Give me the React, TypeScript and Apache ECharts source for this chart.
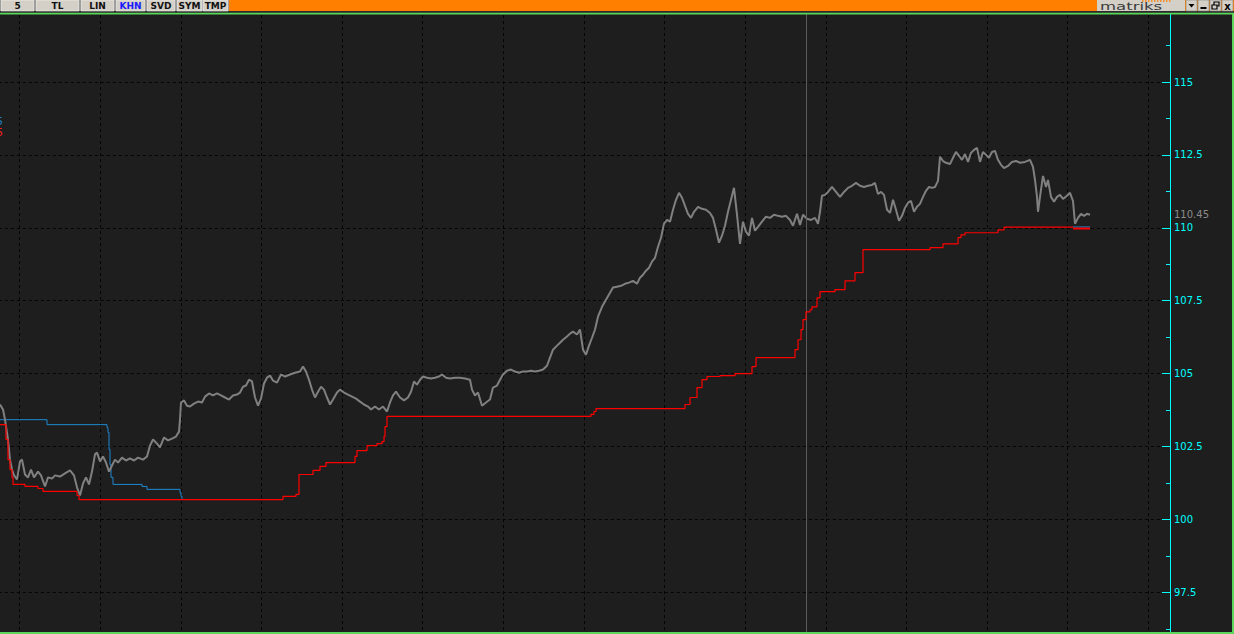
import React, { useEffect, useRef } from "react";
import * as echarts from "echarts";

// ---- data (bar index, price) ----
const price: [number, number][] = [
  [0,103.94],[3,103.77],[5,103.42],[8,102.74],[10,102.05],[12,101.71],[14,101.51],[17,101.37],[20,101.99],[22,102.05],
  [25,101.54],[28,101.44],[31,101.71],[34,101.44],[38,101.64],[41,101.51],[45,101.13],[48,101.44],[52,101.40],[55,101.51],
  [60,101.47],[65,101.58],[70,101.68],[74,101.51],[77,101.10],[80,100.82],[83,101.23],[86,101.44],[89,101.20],[92,101.64],
  [95,102.23],[97,102.29],[100,101.99],[103,102.16],[106,101.95],[109,101.64],[112,101.85],[115,102.05],[118,101.95],[122,102.12],
  [126,102.02],[130,102.09],[134,102.02],[138,102.12],[143,102.05],[147,102.16],[150,102.53],[153,102.74],[157,102.60],[160,102.47],
  [164,102.81],[168,102.71],[172,102.77],[176,102.84],[179,103.01],[180,103.42],[181,104.01],[184,104.08],[187,103.90],[190,103.87],
  [194,103.97],[198,104.04],[202,104.01],[205,104.21],[209,104.32],[213,104.25],[217,104.32],[221,104.25],[225,104.18],[229,104.11],
  [233,104.25],[237,104.28],[240,104.35],[243,104.55],[246,104.59],[249,104.79],[252,104.73],[255,104.18],[258,103.90],[261,104.14],
  [264,104.66],[267,104.86],[270,104.93],[273,104.76],[277,104.69],[281,104.97],[285,104.90],[290,104.97],[295,105.03],[300,105.07],
  [303,105.24],[306,105.07],[309,104.79],[312,104.45],[315,104.18],[318,104.38],[321,104.55],[324,104.45],[327,104.18],[330,103.94],
  [333,104.11],[337,104.35],[340,104.45],[344,104.35],[348,104.28],[352,104.21],[356,104.14],[360,104.04],[364,103.94],[368,103.87],
  [371,103.77],[375,103.87],[379,103.77],[383,103.87],[387,103.70],[390,104.01],[393,104.25],[396,104.38],[400,104.18],[404,104.08],
  [408,104.18],[411,104.38],[414,104.73],[417,104.62],[420,104.79],[423,104.90],[427,104.86],[431,104.83],[435,104.86],[439,104.90],
  [442,104.97],[446,104.86],[450,104.83],[455,104.86],[460,104.86],[465,104.83],[470,104.79],[472,104.45],[475,104.25],[478,104.35],
  [482,103.90],[486,104.01],[490,104.11],[493,104.52],[497,104.59],[500,104.79],[503,104.97],[507,105.10],[511,105.14],[515,105.07],
  [519,105.03],[523,105.07],[527,105.07],[531,105.10],[535,105.07],[539,105.10],[543,105.14],[547,105.27],[550,105.55],[553,105.82],
  [557,105.96],[560,106.06],[563,106.16],[567,106.27],[570,106.37],[573,106.44],[577,106.34],[580,106.51],[583,105.82],[586,105.65],
  [589,105.96],[592,106.23],[595,106.51],[598,106.95],[602,107.29],[606,107.53],[610,107.77],[613,107.95],[617,107.98],[621,108.01],
  [625,108.08],[629,108.12],[633,108.18],[637,108.08],[640,108.29],[643,108.39],[646,108.53],[649,108.63],[652,108.84],[655,108.97],
  [658,109.35],[661,109.66],[664,110.14],[667,110.27],[670,110.21],[673,110.62],[676,110.96],[679,111.20],[682,111.03],[685,110.75],
  [688,110.48],[691,110.34],[694,110.55],[698,110.72],[702,110.65],[706,110.62],[710,110.51],[713,110.34],[716,109.93],[719,109.49],
  [722,109.73],[725,110.07],[728,110.55],[731,110.96],[734,111.37],[737,110.45],[740,109.45],[743,110.21],[746,109.86],[749,109.73],
  [752,110.34],[755,109.90],[758,110.03],[762,110.21],[766,110.38],[770,110.34],[774,110.45],[778,110.41],[782,110.38],[786,110.41],
  [790,110.27],[793,110.07],[797,110.48],[800,110.10],[803,110.45],[807,110.31],[811,110.27],[815,110.34],[818,110.14],[820,110.55],
  [822,111.10],[825,111.13],[828,111.23],[832,111.40],[836,111.23],[840,111.06],[844,111.23],[848,111.37],[852,111.44],[856,111.54],
  [860,111.44],[864,111.40],[868,111.44],[872,111.47],[875,111.54],[878,111.16],[881,111.23],[884,111.13],[887,110.62],[890,110.51],
  [893,110.96],[896,110.62],[899,110.24],[902,110.41],[905,110.68],[908,110.86],[911,110.92],[914,110.55],[917,110.72],[920,110.82],
  [923,111.06],[926,111.27],[929,111.40],[932,111.37],[935,111.40],[938,111.61],[940,112.43],[943,112.29],[946,112.23],[950,112.19],
  [953,112.40],[956,112.60],[959,112.47],[962,112.33],[965,112.53],[968,112.26],[971,112.57],[974,112.67],[977,112.74],[980,112.26],
  [983,112.60],[986,112.50],[989,112.40],[992,112.60],[995,112.64],[998,112.33],[1001,112.16],[1004,112.05],[1008,112.12],[1012,112.26],
  [1016,112.29],[1020,112.23],[1025,112.26],[1030,112.33],[1033,112.09],[1035,111.64],[1037,111.06],[1038,110.55],[1040,111.06],[1043,111.78],
  [1046,111.40],[1048,111.64],[1051,111.06],[1054,110.89],[1057,111.06],[1060,111.13],[1063,110.99],[1067,111.10],[1070,111.20],[1073,110.92],
  [1075,110.14],[1078,110.34],[1081,110.48],[1084,110.41],[1087,110.48],[1090,110.45],
];

// trailing stop (red), step levels starting at bar
const stopRed: [number, number][] = [
  [0,103.25],[6,102.74],[8,102.05],[10,101.71],[12,101.44],[13,101.20],[25,101.13],[38,101.06],[43,100.96],[77,100.82],
  [79,100.68],[283,100.79],[296,100.86],[299,101.54],[313,101.68],[320,101.82],[326,101.95],[355,102.16],[357,102.36],[367,102.53],
  [377,102.60],[382,102.67],[384,102.84],[385,103.18],[387,103.53],[591,103.60],[594,103.70],[596,103.80],[685,103.94],[690,104.18],
  [697,104.52],[702,104.79],[707,104.90],[720,104.93],[735,105.00],[752,105.24],[756,105.55],[795,105.82],[798,106.16],[801,106.51],
  [803,106.85],[806,107.12],[810,107.19],[812,107.29],[817,107.60],[820,107.81],[835,107.88],[845,108.18],[855,108.46],[863,109.25],
  [930,109.32],[943,109.45],[958,109.66],[961,109.76],[965,109.83],[998,109.93],[1004,110.02],[1073,110.02],
];
const stopRedTail: [number, number][] = [[1073,109.98],[1090,109.98]];

// second stop (blue)
const stopBlue: [number, number][] = [
  [0,103.42],[47,103.25],[107,103.15],[108,102.98],[109,102.40],[110,101.88],[111,101.44],[113,101.20],[142,101.13],[147,101.03],
  [180,100.92],[181,100.79],[182,100.68],
];
const stopBlueTail: [number, number][] = [[1073,110.03],[1090,110.03]];

const lastPrice = 110.45;
const cursorBar = 806;
const yMin = 95;
const yMax = 117.5;
const yStep = 2.5;
const toolbarLabels = ["5", "TL", "LIN", "KHN", "SVD", "SYM", "TMP"];

export default function App() {
  const ref = useRef<HTMLDivElement>(null);
  useEffect(() => {
    if (!ref.current) return;
    const chart = echarts.init(ref.current, null, { renderer: "svg" });

    const btnLayout = [[1, 33], [36, 43], [81, 33], [116, 29], [147, 28], [177, 25], [203, 25]];
    const graphics: any[] = [];
    // toolbar base
    graphics.push({ type: "rect", z: 100, shape: { x: 0, y: 0, width: 1234, height: 12 }, style: { fill: "#ff8000" } });
    graphics.push({ type: "rect", z: 100, shape: { x: 0, y: 0, width: 229, height: 12 }, style: { fill: "#7a7a7a" } });
    toolbarLabels.forEach((t, i) => {
      const [bx, bw] = btnLayout[i];
      graphics.push({ type: "rect", z: 101, shape: { x: bx, y: 0, width: bw, height: 11 }, style: { fill: "#d4d0c8", stroke: "#f4f4f4", lineWidth: 0.6 } });
      graphics.push({
        type: "text", z: 102, x: bx + bw / 2, y: 6,
        style: { text: t, fill: t === "KHN" ? "#1a1aff" : "#111", font: 'bold 9px "DejaVu Sans"', textAlign: "center", textVerticalAlign: "middle" },
      });
    });
    // dark separator + green line
    graphics.push({ type: "rect", z: 100, shape: { x: 0, y: 11, width: 1234, height: 2 }, style: { fill: "#2a2a2a" } });
    graphics.push({ type: "rect", z: 100, shape: { x: 0, y: 12.8, width: 1234, height: 1.6 }, style: { fill: "#5ad65a" } });
    // matriks logo box
    graphics.push({ type: "rect", z: 101, shape: { x: 1097, y: 0, width: 88, height: 11 }, style: { fill: "#d4d0c8" } });
    graphics.push({
      type: "text", z: 102, x: 1100, y: 6.5, scaleX: 1.5,
      style: { text: "matriks", fill: "#3a3a3a", font: '11px "DejaVu Sans"', textAlign: "left", textVerticalAlign: "middle" },
    });
    graphics.push({ type: "line", z: 102, shape: { x1: 1142, y1: 1, x2: 1172, y2: 1 }, style: { stroke: "#ff7a00", lineWidth: 1.5, lineDash: [1.5, 1.5] } });
    // window buttons
    const wb = [1186, 1198, 1210, 1222];
    wb.forEach((x) => {
      graphics.push({ type: "rect", z: 101, shape: { x, y: 0, width: 11, height: 11 }, style: { fill: "#d4d0c8", stroke: "#808080", lineWidth: 0.6 } });
    });
    graphics.push({ type: "polygon", z: 102, shape: { points: [[1188.5, 4], [1194.5, 4], [1191.5, 7.5]] }, style: { fill: "#000" } });
    graphics.push({ type: "rect", z: 102, shape: { x: 1200.5, y: 7, width: 6, height: 2 }, style: { fill: "#000" } });
    graphics.push({ type: "rect", z: 102, shape: { x: 1214, y: 2, width: 5, height: 4 }, style: { fill: "none", stroke: "#000", lineWidth: 1.2 } });
    graphics.push({ type: "rect", z: 102, shape: { x: 1212, y: 5, width: 5, height: 4 }, style: { fill: "#d4d0c8", stroke: "#000", lineWidth: 1.2 } });
    graphics.push({
      type: "text", z: 102, x: 1227.5, y: 6,
      style: { text: "x", fill: "#000", font: 'bold 10px "DejaVu Sans"', textAlign: "center", textVerticalAlign: "middle" },
    });
    // right and bottom green borders
    graphics.push({ type: "rect", z: 100, shape: { x: 1232, y: 13, width: 2, height: 621 }, style: { fill: "#5ad65a" } });
    graphics.push({ type: "rect", z: 100, shape: { x: 0, y: 632, width: 1234, height: 2 }, style: { fill: "#5ad65a" } });
    // clipped legend fragments at left edge
    graphics.push({ type: "text", z: 100, x: -3.5, y: 121, style: { text: "5", fill: "#1e88d0", font: '10px "DejaVu Sans"', textVerticalAlign: "middle" } });
    graphics.push({ type: "text", z: 100, x: -3.5, y: 132, style: { text: "5", fill: "#ff2020", font: '10px "DejaVu Sans"', textVerticalAlign: "middle" } });

    const gridLine = { color: "#050505", type: [3, 3] as any, width: 1 };

    chart.setOption({
      animation: false,
      backgroundColor: "#1e1e1e",
      grid: { left: -61.13, right: 64, top: 9.1, bottom: -31.2, containLabel: false, outerBoundsMode: "none" },
      xAxis: {
        type: "value",
        min: -61.13,
        max: 1170,
        interval: 80.63,
        axisLine: { show: false },
        axisTick: { show: false },
        axisLabel: { show: false },
        splitLine: { show: true, lineStyle: gridLine },
      },
      yAxis: {
        type: "value",
        position: "right",
        min: yMin,
        max: yMax,
        interval: yStep,
        axisLine: { show: true, onZero: false, lineStyle: { color: "#00ffff", width: 1 } },
        axisTick: { show: true, inside: true, length: 8, lineStyle: { color: "#00ffff", width: 1 } },
        minorTick: { show: true, splitNumber: 2, length: 4, lineStyle: { color: "#00ffff", width: 1 } },
        axisLabel: {
          color: "#00ffff",
          fontFamily: "DejaVu Sans",
          fontSize: 10,
          margin: 4,
          formatter: (v: number) => (v <= yMin || v >= yMax ? "" : String(v)),
        },
        splitLine: { show: true, lineStyle: gridLine },
      },
      series: [
        {
          type: "line",
          data: stopBlue,
          step: "end",
          showSymbol: false,
          silent: true,
          lineStyle: { color: "#1e88d0", width: 1 },
          z: 3,
        },
        {
          type: "line",
          data: price,
          showSymbol: false,
          silent: true,
          lineStyle: { color: "#808080", width: 2 },
          z: 4,
          markLine: {
            silent: true,
            symbol: ["none", "none"],
            animation: false,
            data: [
              {
                yAxis: lastPrice,
                lineStyle: { color: "rgba(0,0,0,0)", width: 1 },
                label: {
                  show: true,
                  position: "end",
                  distance: 4,
                  formatter: lastPrice.toFixed(2),
                  color: "#8c8c8c",
                  fontFamily: "DejaVu Sans",
                  fontSize: 10,
                },
              },
              {
                xAxis: cursorBar,
                lineStyle: { color: "#5a5a5a", type: "solid", width: 1 },
                label: { show: false },
              },
            ],
          },
        },
        {
          type: "line",
          data: stopRed,
          step: "end",
          showSymbol: false,
          silent: true,
          lineStyle: { color: "#ff0000", width: 1.2 },
          z: 5,
        },
        {
          type: "line",
          data: stopBlueTail,
          showSymbol: false,
          silent: true,
          lineStyle: { color: "#1e88d0", width: 1 },
          z: 5,
        },
        {
          type: "line",
          data: stopRedTail,
          showSymbol: false,
          silent: true,
          lineStyle: { color: "#ff0000", width: 2 },
          z: 6,
        },
      ],
      graphic: graphics,
    });
    return () => chart.dispose();
  }, []);
  return (
    <div
      ref={ref}
      style={{ position: "absolute", left: 0, top: 0, width: 1234, height: 634 }}
    />
  );
}
